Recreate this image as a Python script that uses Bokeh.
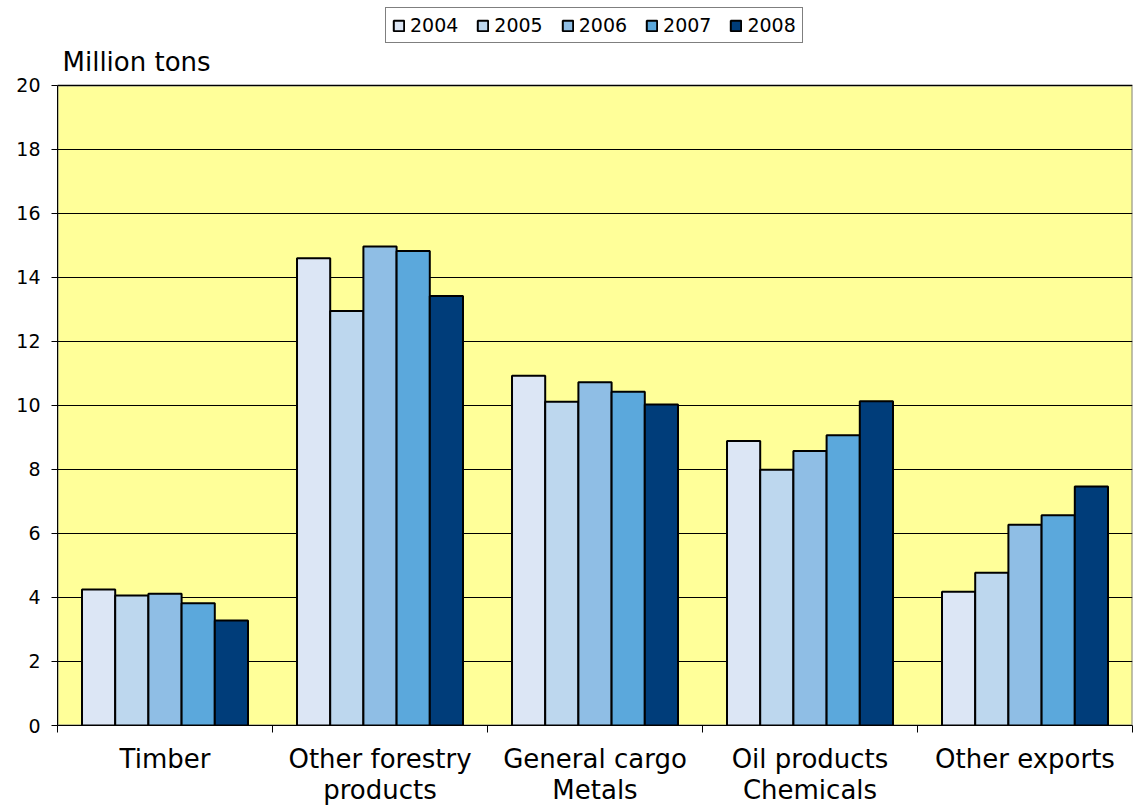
import numpy as np
from bokeh.plotting import figure
from bokeh.models import Range1d, FixedTicker, Legend, LegendItem, Label
from bokeh.embed import file_html
from bokeh.resources import INLINE

categories = ["Timber", "Other forestry\nproducts", "General cargo\nMetals",
              "Oil products\nChemicals", "Other exports"]
years = ["2004", "2005", "2006", "2007", "2008"]
v2004 = [4.25, 14.6, 10.93, 8.89, 4.18]
v2005 = [4.06, 12.95, 10.12, 7.99, 4.77]
v2006 = [4.12, 14.97, 10.73, 8.58, 6.27]
v2007 = [3.82, 14.83, 10.43, 9.07, 6.57]
v2008 = [3.28, 13.42, 10.03, 10.13, 7.47]
series = [v2004, v2005, v2006, v2007, v2008]
colors = ["#DCE6F5", "#BDD7EE", "#8FBEE5", "#5BA8DC", "#003D7A"]
Y_MIN, Y_MAX = 0, 20
y_ticks = list(range(Y_MIN, Y_MAX + 1, 2))
y_unit = "Million tons"

FONT = "DejaVu Sans"

# frame spans the whole canvas height above the x axis, so that legend
# and unit label can sit above the plot area
Y_TOP = 22.656
N = len(categories)

p = figure(width=1140, height=808, output_backend="svg", toolbar_location=None,
           x_range=Range1d(0, N), y_range=Range1d(Y_MIN, Y_TOP),
           min_border_left=57, min_border_right=8, min_border_bottom=83, min_border_top=0)
p.background_fill_color = "white"
p.border_fill_color = "white"
p.outline_line_color = None

# plot area background
p.quad(left=[0], right=[N], bottom=[Y_MIN], top=[Y_MAX], fill_color="#FFFF99",
       line_color="#808080", line_width=2, level="image")

centers = np.arange(N) + 0.5
bw = 0.1544
renderers = []
for j, (vals, col) in enumerate(zip(series, colors)):
    r = p.vbar(x=centers + (j - 2) * bw, top=vals, width=bw, bottom=0,
               fill_color=col, line_color="black", line_width=2)
    renderers.append(r)

# x axis
xa = p.xaxis[0]
xa.ticker = FixedTicker(ticks=list(centers), minor_ticks=list(range(N + 1)))
xa.major_label_overrides = {float(c): name for c, name in zip(centers, categories)}
xa.major_tick_out = 0
xa.major_tick_in = 0
xa.minor_tick_out = 7
xa.minor_tick_in = 0
xa.minor_tick_line_color = "black"
xa.axis_line_color = "black"
xa.major_label_text_font = FONT
xa.major_label_text_font_size = "26px"
xa.major_label_text_color = "black"
xa.major_label_standoff = 11
xa.major_label_text_line_height = 1.06

# y axis
ya = p.yaxis[0]
ya.ticker = FixedTicker(ticks=y_ticks)
ya.bounds = (Y_MIN, Y_MAX)
ya.major_tick_out = 6
ya.major_tick_in = 0
ya.minor_tick_line_color = None
ya.axis_line_color = "black"
ya.major_label_text_font = FONT
ya.major_label_text_font_size = "19px"
ya.major_label_text_color = "black"
ya.major_label_standoff = 11

p.xgrid.grid_line_color = None
p.ygrid.grid_line_color = "black"
p.ygrid.grid_line_width = 1
p.ygrid.ticker = FixedTicker(ticks=y_ticks)

p.add_layout(Label(x=0, y=Y_MAX, x_offset=5, y_offset=23, text=y_unit,
                   text_font=FONT, text_font_size="26px", text_color="black",
                   text_baseline="alphabetic", text_align="left"))

legend = Legend(items=[LegendItem(label=y, renderers=[r]) for y, r in zip(years, renderers)],
                orientation="horizontal", location=(328, 682),
                border_line_color="black", border_line_width=1,
                background_fill_color="white", background_fill_alpha=1,
                label_text_font=FONT, label_text_font_size="19px",
                label_text_color="black",
                glyph_width=13, glyph_height=13, label_standoff=5, spacing=18,
                padding=6, margin=0, label_height=20)
p.add_layout(legend, "center")

open("out.html", "w").write(file_html(p, INLINE))
